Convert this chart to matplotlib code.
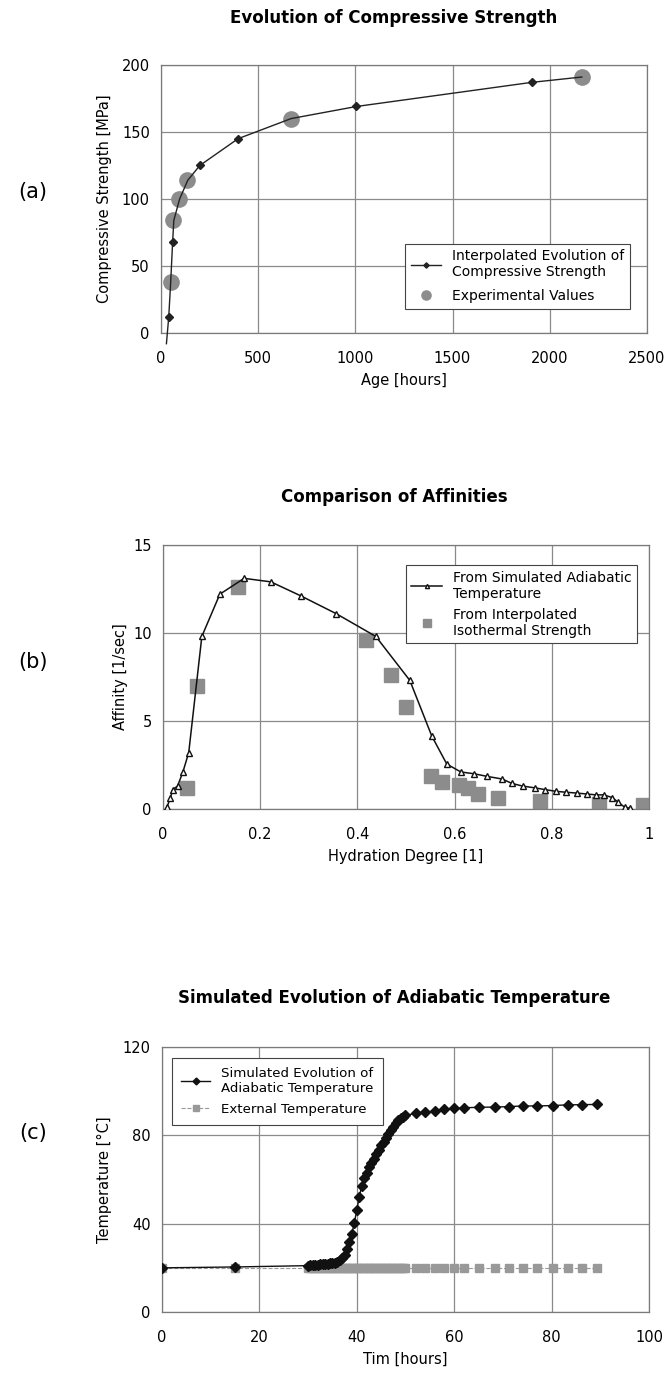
import matplotlib
matplotlib.use('Agg')
import matplotlib.pyplot as plt

# (a) compressive strength vs age
interp_age = [28, 40, 50, 60, 66, 96, 138, 200, 397, 670, 1005, 1907, 2165]
interp_strength = [-8, 12, 38, 68, 84, 100, 114, 125, 145, 160, 169, 187, 191]
interp_marked = [1, 3, 7, 8, 10, 11]
exp_age = [50, 63, 93, 134, 670, 2165]
exp_strength = [38, 84, 100, 114, 160, 191]

# (b) affinities vs hydration degree
adia_hyd = [0.008, 0.015, 0.02, 0.03, 0.041, 0.053, 0.080, 0.117, 0.167, 0.222, 0.284,
            0.356, 0.438, 0.508, 0.553, 0.584, 0.613, 0.640, 0.667, 0.698, 0.718, 0.740,
            0.765, 0.786, 0.809, 0.829, 0.852, 0.872, 0.891, 0.907, 0.924, 0.936, 0.950, 0.960]
adia_aff = [0.1, 0.6, 1.1, 1.3, 2.1, 3.2, 9.8, 12.2, 13.1, 12.9, 12.1,
            11.1, 9.8, 7.3, 4.15, 2.55, 2.1, 2.0, 1.85, 1.7, 1.45, 1.3,
            1.2, 1.1, 1.0, 0.95, 0.9, 0.85, 0.8, 0.8, 0.65, 0.4, 0.1, 0.05]
iso_hyd = [0.049, 0.070, 0.154, 0.418, 0.469, 0.500, 0.551, 0.574, 0.609, 0.628,
           0.648, 0.689, 0.776, 0.897, 0.988]
iso_aff = [1.2, 7.0, 12.6, 9.6, 7.6, 5.8, 1.9, 1.55, 1.35, 1.2,
           0.85, 0.6, 0.45, 0.3, 0.2]

# (c) temperatures vs time
time_h = [0, 15,
          30, 30.5, 31, 31.5, 32, 32.5, 33, 33.5, 34, 34.5, 35, 35.5, 36, 36.5, 37, 37.5,
          38, 38.5, 39, 39.5, 40, 40.5, 41, 41.5, 42, 42.5, 43, 43.5, 44, 44.5, 45, 45.5,
          46, 46.5, 47, 47.5, 48, 48.5, 49, 49.5, 50,
          52.1, 54.0, 56.1, 58.0, 59.9, 62.1, 65.1, 68.3, 71.2, 74.1, 77.1, 80.2, 83.3, 86.3, 89.4]
adia_temp = [20, 20.4,
             21.0, 21.2, 21.3, 21.4, 21.5, 21.6, 21.7, 21.8, 21.9, 22.0, 22.2, 22.4, 22.8, 23.4,
             24.3, 26.0, 28.5, 31.5, 35.5, 40.5, 46, 52, 57, 60.5, 63, 65.5, 67.5, 69.5, 71.5,
             73.5, 75.5, 77.2, 79, 80.8, 82.5, 84, 85.5, 86.8, 87.8, 88.5, 89,
             90, 90.5, 91, 91.7, 92.2, 92.5, 92.7, 92.8, 93, 93.3, 93.3, 93.5, 93.8, 93.9, 94]
ext_temp = [20] * len(time_h)

plt.rcParams['font.family'] = 'DejaVu Sans'
fig = plt.figure(figsize=(6.66, 13.76), dpi=100)

grid_color = '#8a8a8a'
gray_pts = '#8c8c8c'
title_x = 394 / 666


def style_axes(ax):
    ax.grid(True, color=grid_color, linewidth=0.9)
    ax.set_axisbelow(True)
    for s in ax.spines.values():
        s.set_color('#7a7a7a')
        s.set_linewidth(0.9)
    ax.tick_params(length=0, labelsize=10.5)
    ax.tick_params(axis='y', pad=8)
    ax.tick_params(axis='x', pad=13)


# ---- (a)
ax1 = fig.add_axes([0.2417, 0.758, 0.7297, 0.1948])
ax1.plot(interp_age, interp_strength, color='#222222', lw=1.0, marker='D', ms=4.5,
         markevery=interp_marked, clip_on=False, zorder=3,
         label='Interpolated Evolution of\nCompressive Strength')
ax1.plot(exp_age, exp_strength, ls='none', marker='o', ms=11, color=gray_pts,
         zorder=2, label='Experimental Values')
ax1.set_xlim(0, 2500)
ax1.set_ylim(0, 200)
ax1.set_xticks(range(0, 2501, 500))
ax1.set_yticks(range(0, 201, 50))
style_axes(ax1)
ax1.set_xlabel('Age [hours]', fontsize=10.5, labelpad=5)
ax1.set_ylabel('Compressive Strength [MPa]', fontsize=10.5, labelpad=7)
leg = ax1.legend(loc='lower right', bbox_to_anchor=(0.98, 0.065), fontsize=10,
                 fancybox=False, edgecolor='#444444', framealpha=1,
                 markerscale=0.6, handlelength=2.2, labelspacing=0.7)
leg.get_frame().set_linewidth(0.8)
fig.text(title_x, 1 - 18 / 1376, 'Evolution of Compressive Strength', ha='center',
         va='center', fontsize=12, fontweight='bold')
fig.text(33 / 666, 1 - 192 / 1376, '(a)', ha='center', va='center', fontsize=15)

# ---- (b)
ax2 = fig.add_axes([0.2447, 0.4121, 0.7297, 0.1919])
ax2.plot(adia_hyd, adia_aff, color='#111111', lw=1.1, marker='^', ms=5,
         mfc='white', mec='#111111', zorder=3,
         label='From Simulated Adiabatic\nTemperature')
ax2.plot(iso_hyd, iso_aff, ls='none', marker='s', ms=10, color=gray_pts,
         zorder=2, label='From Interpolated\nIsothermal Strength')
ax2.set_xlim(0, 1)
ax2.set_ylim(0, 15)
ax2.set_xticks([0, 0.2, 0.4, 0.6, 0.8, 1])
ax2.set_xticklabels(['0', '0.2', '0.4', '0.6', '0.8', '1'])
ax2.set_yticks([0, 5, 10, 15])
style_axes(ax2)
ax2.set_xlabel('Hydration Degree [1]', fontsize=10.5, labelpad=5)
ax2.set_ylabel('Affinity [1/sec]', fontsize=10.5, labelpad=4)
leg = ax2.legend(loc='upper right', bbox_to_anchor=(0.99, 0.95), fontsize=10,
                 fancybox=False, edgecolor='#444444', framealpha=1,
                 markerscale=0.6, handlelength=2.2)
leg.get_frame().set_linewidth(0.8)
fig.text(title_x, 1 - 497 / 1376, 'Comparison of Affinities', ha='center',
         va='center', fontsize=12, fontweight='bold')
fig.text(33 / 666, 1 - 662 / 1376, '(b)', ha='center', va='center', fontsize=15)

# ---- (c)
ax3 = fig.add_axes([0.2432, 0.0465, 0.7312, 0.1926])
ax3.plot(time_h, adia_temp, color='#111111', lw=1.0, marker='D', ms=5,
         zorder=3, label='Simulated Evolution of\nAdiabatic Temperature')
ax3.plot(time_h, ext_temp, color='#999999', lw=0.8, ls='--', marker='s', ms=5.5,
         mfc='#999999', mec='#999999', zorder=2, label='External Temperature')
ax3.set_xlim(0, 100)
ax3.set_ylim(0, 120)
ax3.set_xticks(range(0, 101, 20))
ax3.set_yticks(range(0, 121, 40))
style_axes(ax3)
ax3.set_xlabel('Tim [hours]', fontsize=10.5, labelpad=5)
ax3.set_ylabel('Temperature [°C]', fontsize=10.5, labelpad=8)
leg = ax3.legend(loc='upper left', bbox_to_anchor=(0.02, 0.96), fontsize=9.6,
                 fancybox=False, edgecolor='#444444', framealpha=1,
                 markerscale=0.7, handlelength=2.2, borderaxespad=0,
                 labelspacing=0.6, borderpad=0.7)
leg.get_frame().set_linewidth(0.8)
fig.text(title_x, 1 - 998 / 1376, 'Simulated Evolution of Adiabatic Temperature',
         ha='center', va='center', fontsize=12, fontweight='bold')
fig.text(33 / 666, 1 - 1133 / 1376, '(c)', ha='center', va='center', fontsize=15)

fig.savefig('out.png', dpi=100, facecolor='white')
